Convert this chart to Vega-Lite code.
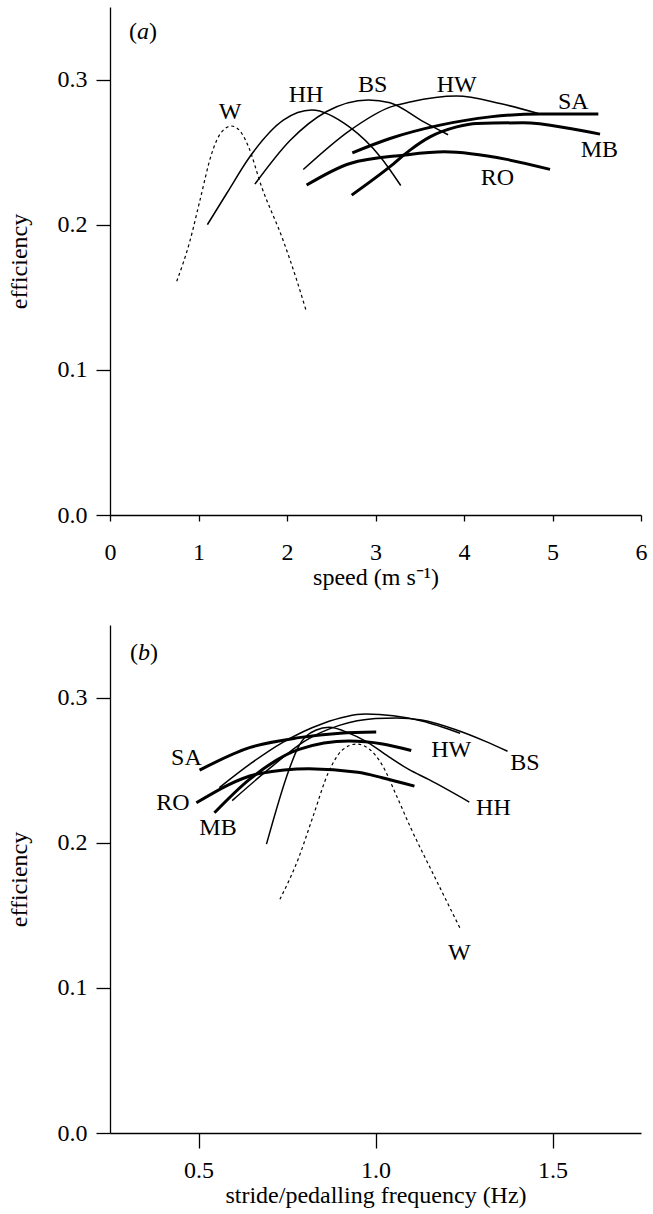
{
  "$schema": "https://vega.github.io/schema/vega-lite/v6.json",
  "padding": {"left": 7, "top": 7, "right": 5, "bottom": 5},
  "spacing": 110,
  "bounds": "flush",
  "config": {
    "view": {"stroke": null},
    "font": "Liberation Serif",
    "axis": {
      "grid": false,
      "domainColor": "black",
      "tickColor": "black",
      "labelColor": "black",
      "titleColor": "black",
      "labelFont": "Liberation Serif",
      "titleFont": "Liberation Serif",
      "labelFontSize": 24,
      "titleFontSize": 24,
      "titleFontWeight": "normal",
      "domainWidth": 1.3,
      "tickWidth": 1.3
    }
  },
  "datasets": {
    "curvesA": [
      {"species": "W", "speed": 0.754, "efficiency": 0.161},
      {"species": "W", "speed": 0.904, "efficiency": 0.189},
      {"species": "W", "speed": 1.017, "efficiency": 0.217},
      {"species": "W", "speed": 1.149, "efficiency": 0.249},
      {"species": "W", "speed": 1.262, "efficiency": 0.264},
      {"species": "W", "speed": 1.375, "efficiency": 0.268},
      {"species": "W", "speed": 1.488, "efficiency": 0.263},
      {"species": "W", "speed": 1.563, "efficiency": 0.254},
      {"species": "W", "speed": 1.714, "efficiency": 0.226},
      {"species": "W", "speed": 1.958, "efficiency": 0.189},
      {"species": "W", "speed": 2.109, "efficiency": 0.162},
      {"species": "W", "speed": 2.215, "efficiency": 0.141},
      {"species": "HH", "speed": 1.1, "efficiency": 0.2},
      {"species": "HH", "speed": 1.318, "efficiency": 0.2215},
      {"species": "HH", "speed": 1.582, "efficiency": 0.247},
      {"species": "HH", "speed": 1.958, "efficiency": 0.272},
      {"species": "HH", "speed": 2.279, "efficiency": 0.279},
      {"species": "HH", "speed": 2.712, "efficiency": 0.267},
      {"species": "HH", "speed": 3.051, "efficiency": 0.247},
      {"species": "HH", "speed": 3.285, "efficiency": 0.227},
      {"species": "BS", "speed": 1.638, "efficiency": 0.228},
      {"species": "BS", "speed": 2.034, "efficiency": 0.258},
      {"species": "BS", "speed": 2.448, "efficiency": 0.278},
      {"species": "BS", "speed": 2.919, "efficiency": 0.286},
      {"species": "BS", "speed": 3.164, "efficiency": 0.284},
      {"species": "BS", "speed": 3.54, "efficiency": 0.271},
      {"species": "BS", "speed": 3.82, "efficiency": 0.262},
      {"species": "HW", "speed": 2.184, "efficiency": 0.238},
      {"species": "HW", "speed": 2.712, "efficiency": 0.265},
      {"species": "HW", "speed": 3.164, "efficiency": 0.281},
      {"species": "HW", "speed": 3.39, "efficiency": 0.2845},
      {"species": "HW", "speed": 3.917, "efficiency": 0.2886},
      {"species": "HW", "speed": 4.407, "efficiency": 0.2835},
      {"species": "HW", "speed": 4.84, "efficiency": 0.2766},
      {"species": "SA", "speed": 2.738, "efficiency": 0.2495},
      {"species": "SA", "speed": 3.164, "efficiency": 0.2594},
      {"species": "SA", "speed": 3.729, "efficiency": 0.2686},
      {"species": "SA", "speed": 4.294, "efficiency": 0.2743},
      {"species": "SA", "speed": 4.859, "efficiency": 0.2762},
      {"species": "SA", "speed": 5.518, "efficiency": 0.2762},
      {"species": "MB", "speed": 2.731, "efficiency": 0.2204},
      {"species": "MB", "speed": 3.164, "efficiency": 0.24},
      {"species": "MB", "speed": 3.39, "efficiency": 0.2514},
      {"species": "MB", "speed": 3.616, "efficiency": 0.2605},
      {"species": "MB", "speed": 3.917, "efficiency": 0.2674},
      {"species": "MB", "speed": 4.143, "efficiency": 0.2698},
      {"species": "MB", "speed": 4.67, "efficiency": 0.2702},
      {"species": "MB", "speed": 5.198, "efficiency": 0.2663},
      {"species": "MB", "speed": 5.537, "efficiency": 0.2624},
      {"species": "RO", "speed": 2.222, "efficiency": 0.2273},
      {"species": "RO", "speed": 2.712, "efficiency": 0.2422},
      {"species": "RO", "speed": 3.314, "efficiency": 0.2479},
      {"species": "RO", "speed": 3.78, "efficiency": 0.2502},
      {"species": "RO", "speed": 4.482, "efficiency": 0.245},
      {"species": "RO", "speed": 4.972, "efficiency": 0.2381}
    ],
    "labelsA": [
      {"label": "W", "speed": 1.356, "efficiency": 0.2778},
      {"label": "HH", "speed": 2.215, "efficiency": 0.2893},
      {"label": "BS", "speed": 2.968, "efficiency": 0.2961},
      {"label": "HW", "speed": 3.917, "efficiency": 0.2961},
      {"label": "SA", "speed": 5.235, "efficiency": 0.2846},
      {"label": "MB", "speed": 5.529, "efficiency": 0.2514},
      {"label": "RO", "speed": 4.377, "efficiency": 0.2319}
    ],
    "tagA": [{"letter": "a", "speed": 0.373, "efficiency": 0.3326}],
    "curvesB": [
      {"species": "W", "frequency": 0.73, "efficiency": 0.161},
      {"species": "W", "frequency": 0.782, "efficiency": 0.189},
      {"species": "W", "frequency": 0.822, "efficiency": 0.217},
      {"species": "W", "frequency": 0.868, "efficiency": 0.249},
      {"species": "W", "frequency": 0.907, "efficiency": 0.264},
      {"species": "W", "frequency": 0.946, "efficiency": 0.268},
      {"species": "W", "frequency": 0.98, "efficiency": 0.265},
      {"species": "W", "frequency": 1.019, "efficiency": 0.2535},
      {"species": "W", "frequency": 1.06, "efficiency": 0.232},
      {"species": "W", "frequency": 1.1, "efficiency": 0.21},
      {"species": "W", "frequency": 1.17, "efficiency": 0.175},
      {"species": "W", "frequency": 1.239, "efficiency": 0.141},
      {"species": "HH", "frequency": 0.692, "efficiency": 0.199},
      {"species": "HH", "frequency": 0.756, "efficiency": 0.2505},
      {"species": "HH", "frequency": 0.78, "efficiency": 0.265},
      {"species": "HH", "frequency": 0.831, "efficiency": 0.2775},
      {"species": "HH", "frequency": 0.869, "efficiency": 0.2795},
      {"species": "HH", "frequency": 0.925, "efficiency": 0.2755},
      {"species": "HH", "frequency": 0.972, "efficiency": 0.27},
      {"species": "HH", "frequency": 1.037, "efficiency": 0.2593},
      {"species": "HH", "frequency": 1.094, "efficiency": 0.2505},
      {"species": "HH", "frequency": 1.15, "efficiency": 0.2436},
      {"species": "HH", "frequency": 1.265, "efficiency": 0.228},
      {"species": "BS", "frequency": 0.595, "efficiency": 0.229},
      {"species": "BS", "frequency": 0.7, "efficiency": 0.251},
      {"species": "BS", "frequency": 0.8, "efficiency": 0.27},
      {"species": "BS", "frequency": 0.9, "efficiency": 0.281},
      {"species": "BS", "frequency": 1.0, "efficiency": 0.2855},
      {"species": "BS", "frequency": 1.06, "efficiency": 0.286},
      {"species": "BS", "frequency": 1.13, "efficiency": 0.2845},
      {"species": "BS", "frequency": 1.225, "efficiency": 0.278},
      {"species": "BS", "frequency": 1.309, "efficiency": 0.27},
      {"species": "BS", "frequency": 1.373, "efficiency": 0.263},
      {"species": "HW", "frequency": 0.559, "efficiency": 0.238},
      {"species": "HW", "frequency": 0.65, "efficiency": 0.255},
      {"species": "HW", "frequency": 0.737, "efficiency": 0.269},
      {"species": "HW", "frequency": 0.85, "efficiency": 0.282},
      {"species": "HW", "frequency": 0.972, "efficiency": 0.2886},
      {"species": "HW", "frequency": 1.05, "efficiency": 0.2875},
      {"species": "HW", "frequency": 1.131, "efficiency": 0.2839},
      {"species": "HW", "frequency": 1.239, "efficiency": 0.2754},
      {"species": "SA", "frequency": 0.503, "efficiency": 0.25},
      {"species": "SA", "frequency": 0.644, "efficiency": 0.2655},
      {"species": "SA", "frequency": 0.784, "efficiency": 0.2724},
      {"species": "SA", "frequency": 0.9, "efficiency": 0.2755},
      {"species": "SA", "frequency": 1.002, "efficiency": 0.2763},
      {"species": "MB", "frequency": 0.545, "efficiency": 0.2206},
      {"species": "MB", "frequency": 0.644, "efficiency": 0.2436},
      {"species": "MB", "frequency": 0.784, "efficiency": 0.2643},
      {"species": "MB", "frequency": 0.925, "efficiency": 0.27},
      {"species": "MB", "frequency": 1.02, "efficiency": 0.268},
      {"species": "MB", "frequency": 1.101, "efficiency": 0.2635},
      {"species": "RO", "frequency": 0.494, "efficiency": 0.2275},
      {"species": "RO", "frequency": 0.672, "efficiency": 0.2476},
      {"species": "RO", "frequency": 0.812, "efficiency": 0.251},
      {"species": "RO", "frequency": 0.95, "efficiency": 0.2485},
      {"species": "RO", "frequency": 1.019, "efficiency": 0.2448},
      {"species": "RO", "frequency": 1.11, "efficiency": 0.239}
    ],
    "labelsB": [
      {"label": "SA", "frequency": 0.466, "efficiency": 0.2586},
      {"label": "RO", "frequency": 0.428, "efficiency": 0.2275},
      {"label": "MB", "frequency": 0.555, "efficiency": 0.2103},
      {"label": "HW", "frequency": 1.214, "efficiency": 0.2638},
      {"label": "BS", "frequency": 1.422, "efficiency": 0.2551},
      {"label": "HH", "frequency": 1.333, "efficiency": 0.224},
      {"label": "W", "frequency": 1.237, "efficiency": 0.124}
    ],
    "tagB": [{"letter": "b", "frequency": 0.346, "efficiency": 0.331}]
  },
  "vconcat": [
    {
      "width": 531,
      "height": 508,
      "encoding": {
        "x": {"field": "speed", "type": "quantitative",
              "scale": {"domain": [0, 6], "nice": false, "zero": false},
              "axis": {"title": "speed (m s⁻¹)", "values": [0, 1, 2, 3, 4, 5, 6], "format": "d",
                       "tickSize": 6, "labelPadding": 19, "titlePadding": 1, "labelFlush": false}},
        "y": {"field": "efficiency", "type": "quantitative",
              "scale": {"domain": [0, 0.35], "nice": false},
              "axis": {"title": "efficiency", "values": [0, 0.1, 0.2, 0.3], "format": ".1f",
                       "tickSize": 14, "labelPadding": 9, "titlePadding": 26, "labelFlush": false}}
      },
      "layer": [
        {"data": {"name": "curvesA"},
         "transform": [{"filter": {"field": "species", "oneOf": ["HH", "BS", "HW"]}}],
         "mark": {"type": "line", "interpolate": "monotone", "color": "black", "strokeWidth": 1.5},
         "encoding": {"detail": {"field": "species"}}},
        {"data": {"name": "curvesA"},
         "transform": [{"filter": {"field": "species", "oneOf": ["SA", "MB", "RO"]}}],
         "mark": {"type": "line", "interpolate": "monotone", "color": "black", "strokeWidth": 3},
         "encoding": {"detail": {"field": "species"}}},
        {"data": {"name": "curvesA"},
         "transform": [{"filter": {"field": "species", "equal": "W"}}],
         "mark": {"type": "line", "interpolate": "monotone", "color": "black", "strokeWidth": 1.2, "strokeDash": [3, 3]},
         "encoding": {"detail": {"field": "species"}}},
        {"data": {"name": "labelsA"},
         "mark": {"type": "text", "font": "Liberation Serif", "fontSize": 24, "color": "black", "baseline": "middle", "align": "center"},
         "encoding": {"text": {"field": "label"}}},
        {"data": {"name": "tagA"},
         "mark": {"type": "text", "font": "Liberation Serif", "fontSize": 24, "fontStyle": "italic", "color": "black", "baseline": "middle", "align": "center"},
         "encoding": {"text": {"field": "letter"}}},
        {"data": {"name": "tagA"},
         "mark": {"type": "text", "font": "Liberation Serif", "fontSize": 24, "color": "black", "baseline": "middle", "align": "right", "dx": -6, "text": "("},
         "encoding": {}},
        {"data": {"name": "tagA"},
         "mark": {"type": "text", "font": "Liberation Serif", "fontSize": 24, "color": "black", "baseline": "middle", "align": "left", "dx": 6, "text": ")"},
         "encoding": {}}
      ]
    },
    {
      "width": 531,
      "height": 508,
      "encoding": {
        "x": {"field": "frequency", "type": "quantitative",
              "scale": {"domain": [0.25, 1.75], "nice": false, "zero": false},
              "axis": {"title": "stride/pedalling frequency (Hz)", "values": [0.5, 1.0, 1.5], "format": ".1f",
                       "tickSize": 15, "labelPadding": 10, "titlePadding": 1, "labelFlush": false}},
        "y": {"field": "efficiency", "type": "quantitative",
              "scale": {"domain": [0, 0.35], "nice": false},
              "axis": {"title": "efficiency", "values": [0, 0.1, 0.2, 0.3], "format": ".1f",
                       "tickSize": 14, "labelPadding": 9, "titlePadding": 26, "labelFlush": false}}
      },
      "layer": [
        {"data": {"name": "curvesB"},
         "transform": [{"filter": {"field": "species", "oneOf": ["HH", "BS", "HW"]}}],
         "mark": {"type": "line", "interpolate": "monotone", "color": "black", "strokeWidth": 1.5},
         "encoding": {"detail": {"field": "species"}}},
        {"data": {"name": "curvesB"},
         "transform": [{"filter": {"field": "species", "oneOf": ["SA", "MB", "RO"]}}],
         "mark": {"type": "line", "interpolate": "monotone", "color": "black", "strokeWidth": 3},
         "encoding": {"detail": {"field": "species"}}},
        {"data": {"name": "curvesB"},
         "transform": [{"filter": {"field": "species", "equal": "W"}}],
         "mark": {"type": "line", "interpolate": "monotone", "color": "black", "strokeWidth": 1.2, "strokeDash": [3, 3]},
         "encoding": {"detail": {"field": "species"}}},
        {"data": {"name": "labelsB"},
         "mark": {"type": "text", "font": "Liberation Serif", "fontSize": 24, "color": "black", "baseline": "middle", "align": "center"},
         "encoding": {"text": {"field": "label"}}},
        {"data": {"name": "tagB"},
         "mark": {"type": "text", "font": "Liberation Serif", "fontSize": 24, "fontStyle": "italic", "color": "black", "baseline": "middle", "align": "center"},
         "encoding": {"text": {"field": "letter"}}},
        {"data": {"name": "tagB"},
         "mark": {"type": "text", "font": "Liberation Serif", "fontSize": 24, "color": "black", "baseline": "middle", "align": "right", "dx": -6, "text": "("},
         "encoding": {}},
        {"data": {"name": "tagB"},
         "mark": {"type": "text", "font": "Liberation Serif", "fontSize": 24, "color": "black", "baseline": "middle", "align": "left", "dx": 6, "text": ")"},
         "encoding": {}}
      ]
    }
  ]
}
